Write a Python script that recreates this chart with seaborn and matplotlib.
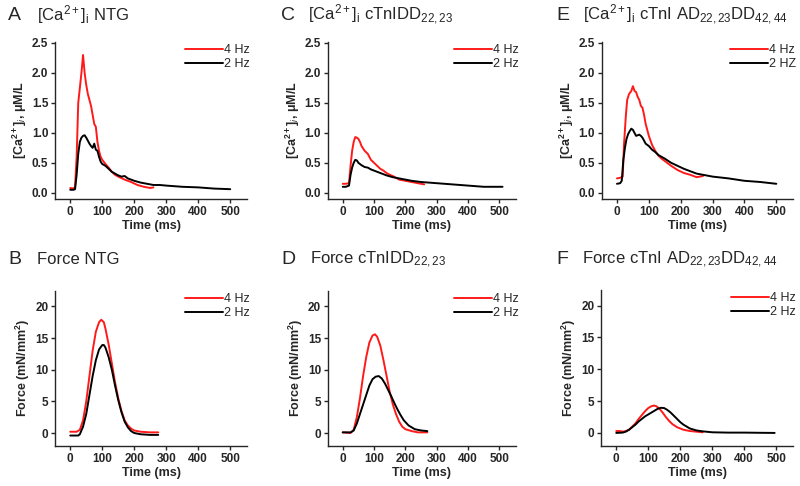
import matplotlib
matplotlib.use("Agg")
import matplotlib.pyplot as plt
import numpy as np
import pandas as pd
import seaborn as sns
from matplotlib.lines import Line2D

# ---- data ----
# A: [Ca2+]i NTG
ca_ntg_4_t = [0, 10, 15, 20, 25, 30, 35, 40, 45, 50, 55, 60, 65, 70, 75, 80, 85, 90, 95, 100,
              110, 120, 130, 140, 150, 170, 190, 210, 230, 250, 260]
ca_ntg_4_v = [0.08, 0.07, 0.1, 0.6, 1.5, 1.75, 2.0, 2.3, 2.0, 1.8, 1.65, 1.55, 1.45, 1.3, 1.15,
              1.1, 0.85, 0.7, 0.6, 0.55, 0.48, 0.42, 0.35, 0.3, 0.27, 0.22, 0.18, 0.13, 0.1, 0.08, 0.09]
ca_ntg_2_t = [0, 10, 15, 20, 25, 30, 35, 40, 45, 50, 55, 60, 65, 70, 75, 80, 85, 90, 95, 100,
              110, 120, 130, 140, 150, 160, 170, 180, 200, 220, 240, 260, 280, 300, 350, 400, 450, 500]
ca_ntg_2_v = [0.05, 0.05, 0.06, 0.3, 0.65, 0.85, 0.92, 0.95, 0.96, 0.92, 0.87, 0.82, 0.78, 0.75,
              0.82, 0.72, 0.7, 0.6, 0.52, 0.48, 0.45, 0.4, 0.35, 0.32, 0.29, 0.27, 0.28, 0.24, 0.2,
              0.17, 0.15, 0.13, 0.13, 0.12, 0.1, 0.09, 0.07, 0.06]

# C: [Ca2+]i cTnIDD22,23
ca_dd_4_t = [0, 10, 20, 25, 30, 35, 40, 45, 50, 55, 60, 70, 80, 90, 100, 110, 120, 130, 140, 150,
             160, 180, 200, 220, 240, 260]
ca_dd_4_v = [0.15, 0.15, 0.16, 0.45, 0.7, 0.85, 0.93, 0.92, 0.9, 0.85, 0.78, 0.7, 0.65, 0.55, 0.5,
             0.45, 0.4, 0.37, 0.33, 0.3, 0.28, 0.22, 0.2, 0.18, 0.16, 0.14]
ca_dd_2_t = [0, 10, 20, 25, 30, 35, 40, 45, 50, 60, 70, 80, 90, 100, 120, 140, 160, 180, 200, 220,
             250, 300, 350, 400, 450, 510]
ca_dd_2_v = [0.1, 0.1, 0.12, 0.3, 0.42, 0.5, 0.55, 0.54, 0.5, 0.46, 0.43, 0.42, 0.39, 0.37, 0.33,
             0.29, 0.26, 0.24, 0.22, 0.2, 0.18, 0.16, 0.14, 0.12, 0.1, 0.1]

# E: [Ca2+]i cTnI AD22,23DD42,44
ca_ad_4_t = [0, 10, 18, 22, 28, 32, 38, 45, 50, 55, 60, 65, 70, 75, 80, 85, 90, 100, 110, 120,
             130, 140, 150, 170, 190, 210, 230, 250, 270]
ca_ad_4_v = [0.24, 0.25, 0.27, 0.8, 1.3, 1.55, 1.65, 1.7, 1.78, 1.7, 1.68, 1.6, 1.55, 1.45, 1.42,
             1.3, 1.15, 0.95, 0.8, 0.7, 0.62, 0.57, 0.53, 0.45, 0.38, 0.33, 0.3, 0.26, 0.28]
ca_ad_2_t = [0, 10, 15, 20, 25, 30, 35, 40, 45, 50, 55, 60, 70, 75, 80, 90, 100, 110, 120, 130,
             140, 150, 170, 190, 210, 230, 250, 270, 300, 350, 400, 450, 500]
ca_ad_2_v = [0.15, 0.16, 0.2, 0.55, 0.75, 0.9, 0.98, 1.03, 1.07, 1.05, 1.0, 0.95, 0.97, 0.95, 0.92,
             0.82, 0.78, 0.72, 0.68, 0.63, 0.6, 0.57, 0.5, 0.45, 0.4, 0.36, 0.32, 0.3, 0.27, 0.24,
             0.2, 0.18, 0.15]

# B: Force NTG
f_ntg_4_t = [0, 20, 30, 40, 50, 60, 70, 80, 90, 97, 105, 110, 120, 130, 140, 150, 160, 170, 180,
             190, 200, 220, 250, 275]
f_ntg_4_v = [0.2, 0.2, 0.5, 2, 5, 9, 13, 16, 17.5, 17.9, 17.5, 16.5, 14, 11, 8, 5.5, 3.5, 2, 1.2,
             0.7, 0.4, 0.2, 0.1, 0.1]
f_ntg_2_t = [0, 25, 30, 40, 50, 60, 70, 80, 90, 100, 105, 110, 120, 130, 140, 150, 160, 170, 180,
             190, 200, 220, 250, 275]
f_ntg_2_v = [-0.4, -0.4, -0.2, 1, 3, 6, 9, 11.5, 13.2, 13.9, 13.9, 13.5, 12, 10, 7.5, 5.2, 3.3,
             1.8, 0.9, 0.3, 0, -0.2, -0.3, -0.3]

# D: Force cTnIDD22,23
f_dd_4_t = [0, 25, 35, 45, 55, 65, 75, 85, 95, 103, 110, 120, 130, 140, 150, 160, 170, 180, 190,
            200, 220, 240, 270]
f_dd_4_v = [0.1, 0, 0.5, 2.5, 5.5, 9, 12, 14.3, 15.4, 15.6, 15.2, 13.8, 11.5, 9, 6.5, 4.5, 3, 1.8,
            1, 0.6, 0.3, 0.1, 0.1]
f_dd_2_t = [0, 25, 35, 45, 55, 65, 75, 85, 95, 105, 115, 125, 135, 145, 155, 165, 175, 185, 195,
            210, 230, 250, 270]
f_dd_2_v = [0.1, 0.1, 0.4, 1.5, 3, 4.5, 6, 7.5, 8.5, 8.9, 9.0, 8.6, 7.8, 6.8, 5.8, 4.7, 3.7, 2.8,
            2.0, 1.2, 0.6, 0.4, 0.3]

# F: Force cTnI AD22,23DD42,44
f_ad_4_t = [0, 10, 20, 30, 40, 50, 60, 70, 80, 90, 100, 110, 118, 125, 135, 145, 155, 165, 175,
            190, 210, 230, 250, 270]
f_ad_4_v = [0.3, 0.3, 0.2, 0.3, 0.5, 1.0, 1.5, 2.2, 2.8, 3.4, 3.9, 4.2, 4.3, 4.2, 3.8, 3.2, 2.5,
            1.9, 1.4, 0.9, 0.5, 0.3, 0.2, 0.1]
f_ad_2_t = [0, 20, 30, 40, 50, 60, 70, 80, 90, 100, 110, 120, 130, 140, 150, 160, 170, 180, 190,
            200, 210, 220, 230, 250, 270, 300, 350, 400, 450, 495]
f_ad_2_v = [0.0, 0.05, 0.2, 0.5, 0.9, 1.3, 1.8, 2.2, 2.6, 2.9, 3.2, 3.5, 3.8, 3.95, 3.9, 3.6, 3.2,
            2.7, 2.2, 1.7, 1.3, 1.0, 0.7, 0.4, 0.25, 0.1, 0.05, 0.05, 0.02, 0.0]

ca_ticks = [0.0, 0.5, 1.0, 1.5, 2.0, 2.5]
force_ticks = [0, 5, 10, 15, 20]
time_ticks = [0, 100, 200, 300, 400, 500]

sns.set_style("ticks")
plt.rcParams["font.family"] = ["Liberation Sans", "DejaVu Sans"]
plt.rcParams["mathtext.fontset"] = "custom"
plt.rcParams["mathtext.rm"] = "Liberation Sans"
plt.rcParams["mathtext.it"] = "Liberation Sans:italic"
plt.rcParams["mathtext.bf"] = "Liberation Sans:bold"
plt.rcParams["mathtext.default"] = "regular"

RED = "#ff1a1a"
BLACK = "#000000"

fig = plt.figure(figsize=(8.0, 4.86), dpi=100)

panels = [
    # letter, title, rect, kind, red series, black series, black label, letter x, title x, title y
    ("A", "[Ca$^{2+}$]$_{\\rm i}$ NTG", [0.069, 0.591, 0.240, 0.323], "ca",
     (ca_ntg_4_t, ca_ntg_4_v), (ca_ntg_2_t, ca_ntg_2_v), "2 Hz", 8, 37, 15),
    ("C", "[Ca$^{2+}$]$_{\\rm i}$ cTnIDD$_{22,23}$", [0.410, 0.591, 0.235, 0.323], "ca",
     (ca_dd_4_t, ca_dd_4_v), (ca_dd_2_t, ca_dd_2_v), "2 Hz", 281, 308, 15),
    ("E", "[Ca$^{2+}$]$_{\\rm i}$ cTnI AD$_{22,23}$DD$_{42,44}$", [0.7525, 0.591, 0.239, 0.323], "ca",
     (ca_ad_4_t, ca_ad_4_v), (ca_ad_2_t, ca_ad_2_v), "2 HZ", 556, 583, 15),
    ("B", "Force NTG", [0.069, 0.083, 0.240, 0.319], "force",
     (f_ntg_4_t, f_ntg_4_v), (f_ntg_2_t, f_ntg_2_v), "2 Hz", 8, 37, 260),
    ("D", "Force cTnIDD$_{22,23}$", [0.410, 0.083, 0.235, 0.319], "force",
     (f_dd_4_t, f_dd_4_v), (f_dd_2_t, f_dd_2_v), "2 Hz", 281, 310, 260),
    ("F", "Force cTnI AD$_{22,23}$DD$_{42,44}$", [0.7515, 0.083, 0.240, 0.321], "force",
     (f_ad_4_t, f_ad_4_v), (f_ad_2_t, f_ad_2_v), "2 Hz", 556, 582, 260),
]

W, H = 800, 486

for letter, title, rect, kind, red, black, blab, lx, tx, ty in panels:
    ax = fig.add_axes(rect)
    df = pd.concat([
        pd.DataFrame({"t": red[0], "v": red[1], "s": "4 Hz"}),
        pd.DataFrame({"t": black[0], "v": black[1], "s": blab}),
    ])
    sns.lineplot(data=df, x="t", y="v", hue="s", palette=[RED, BLACK],
                 linewidth=1.4, ax=ax, legend=False, sort=False, estimator=None)
    sns.despine(ax=ax)
    ax.set_xlim(-47, 553)
    ax.set_xticks(time_ticks)
    if kind == "ca":
        ax.set_ylim(-0.1, 2.52)
        ax.set_yticks(ca_ticks)
        ax.set_yticklabels([f"{v:.1f}" for v in ca_ticks])
        ax.set_ylabel("[Ca$^{2+}$]$_{\\it i}$, \u03bcM/L", fontsize=9, fontweight="bold", labelpad=2)
    else:
        ax.set_ylim(-2, 22.5)
        ax.set_yticks(force_ticks)
        ax.set_ylabel("Force (mN/mm$^{2}$)", fontsize=9, fontweight="bold", labelpad=2)
    ax.set_xlabel("Time (ms)", fontsize=9, fontweight="bold", labelpad=2)
    ax.tick_params(labelsize=8.5, width=1, length=3, direction="out", pad=2)
    for lbl in ax.get_xticklabels() + ax.get_yticklabels():
        lbl.set_fontweight("bold")
    for sp in ("left", "bottom"):
        ax.spines[sp].set_linewidth(1.0)

    handles = [Line2D([], [], color=RED, lw=1.4), Line2D([], [], color=BLACK, lw=1.4)]
    ax.legend(handles, ["4 Hz", blab], loc="upper right", bbox_to_anchor=(1.06, 1.04),
              frameon=False, fontsize=9, handlelength=3.0, handletextpad=0.1,
              labelspacing=0.15, borderpad=0.2)

    fig.text(lx / W, 1 - ty / H, letter, fontsize=14, va="center", ha="left")
    fig.text(tx / W, 1 - ty / H, title, fontsize=12, va="center", ha="left")

fig.savefig("out.png", dpi=100)
